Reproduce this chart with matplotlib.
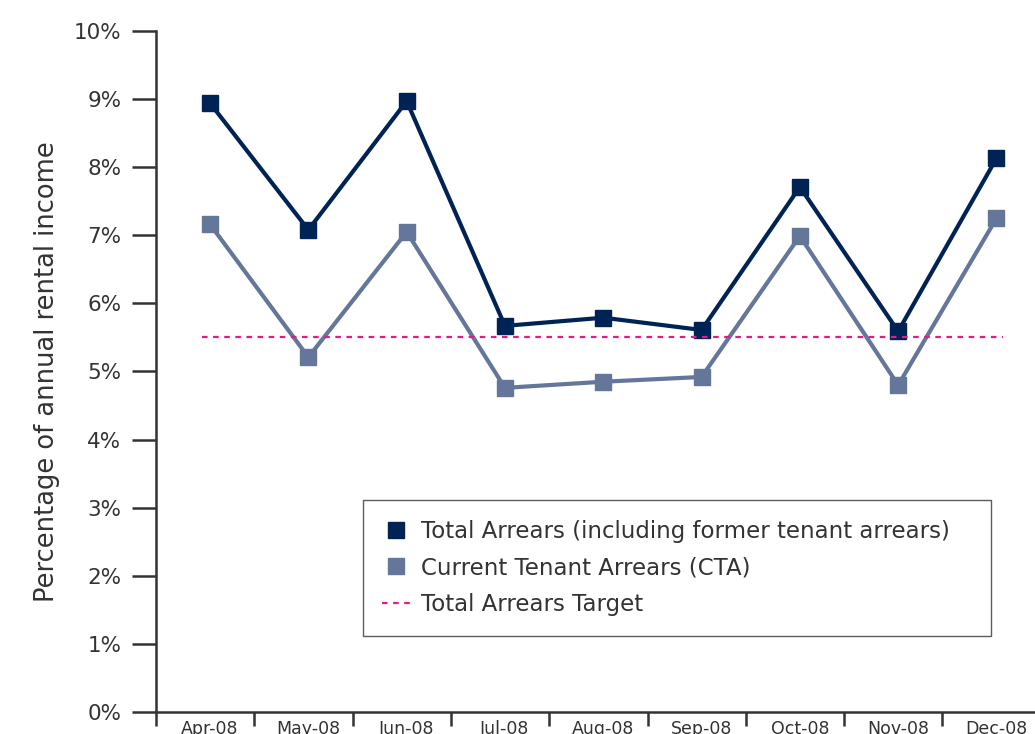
import matplotlib
matplotlib.use("Agg")
import matplotlib.pyplot as plt
from matplotlib.ticker import FixedLocator, FuncFormatter

months = ['Apr-08', 'May-08', 'Jun-08', 'Jul-08', 'Aug-08', 'Sep-08', 'Oct-08', 'Nov-08', 'Dec-08']
total_arrears = [8.94, 7.08, 8.97, 5.67, 5.79, 5.61, 7.71, 5.59, 8.13]
cta = [7.16, 5.21, 7.05, 4.76, 4.85, 4.92, 6.99, 4.80, 7.25]
target = 5.5

navy = '#002356'
slate = '#64769A'
pink = '#E8178A'
txt = '#333333'

plt.rcParams['font.family'] = ['DejaVu Sans']

fig = plt.figure(figsize=(10.35, 7.34), dpi=100)
ax = fig.add_axes([156 / 1035, 22 / 734, 884.7 / 1035, 681 / 734])

x = list(range(len(months)))
ax.plot(x, total_arrears, color=navy, lw=3, marker='s', ms=11.5,
        label='Total Arrears (including former tenant arrears)')
ax.plot(x, cta, color=slate, lw=3, marker='s', ms=11.5,
        label='Current Tenant Arrears (CTA)')
ax.hlines(target, -0.08, 8.07, colors=pink, linestyles=(0, (2.5, 2.5)), lw=1.6,
          label='Total Arrears Target')

ax.set_xlim(-0.55, 8.45)
ax.set_ylim(0, 10)

ax.yaxis.set_major_locator(FixedLocator(range(0, 11)))
ax.yaxis.set_major_formatter(FuncFormatter(lambda v, p: '%d%%' % v))
ax.tick_params(axis='y', length=17, width=1.8, color=txt, labelcolor=txt,
               labelsize=15.5, pad=8)

ax.xaxis.set_major_locator(FixedLocator(x))
ax.set_xticklabels(months)
ax.xaxis.set_minor_locator(FixedLocator([i - 0.55 for i in range(10)]))
ax.tick_params(axis='x', which='major', length=0, labelsize=12.5,
               labelcolor=txt, pad=6)
ax.tick_params(axis='x', which='minor', length=10, width=1.8, color=txt)

for s in ['top', 'right']:
    ax.spines[s].set_visible(False)
for s in ['left', 'bottom']:
    ax.spines[s].set_color(txt)
    ax.spines[s].set_linewidth(1.8)

ax.set_ylabel('Percentage of annual rental income', fontsize=18.5, color=txt,
              labelpad=10)

leg = ax.legend(loc='lower left', bbox_to_anchor=(0.234, 0.112, 0.71, 0.195),
                mode='expand', fontsize=16.5, frameon=True, fancybox=False,
                handlelength=1.2, handletextpad=0.5, borderpad=0.85,
                labelspacing=0.6, borderaxespad=0)
leg.get_frame().set_edgecolor(txt)
leg.get_frame().set_linewidth(1.0)
for t in leg.get_texts():
    t.set_color(txt)
for h in leg.legend_handles[:2]:
    h.set_linestyle('none')
    h.set_markersize(12)

fig.savefig('out.png', dpi=100)
